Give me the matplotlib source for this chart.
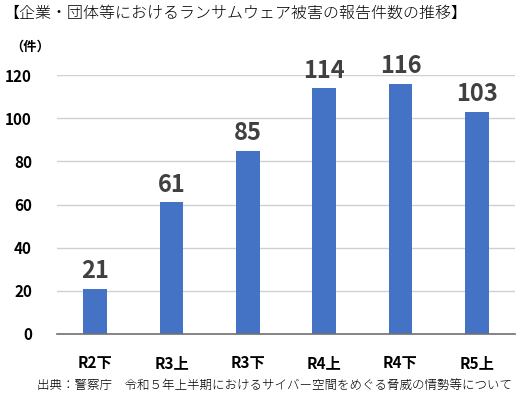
import matplotlib.pyplot as plt

plt.rcParams['font.family'] = ['Noto Sans CJK JP', 'DejaVu Sans']

periods = ["R2下", "R3上", "R3下", "R4上", "R4下", "R5上"]
counts = [21, 61, 85, 114, 116, 103]
yticks = [0, 20, 40, 60, 80, 100, 120]

fig = plt.figure(figsize=(5.22, 3.97), dpi=100)
ax = fig.add_axes([57 / 522, 1 - 334 / 397, 458 / 522, 259 / 397])

x = range(len(periods))
ax.bar(x, counts, width=0.31, color="#4472C4", zorder=3)
for i, v in zip(x, counts):
    ax.text(i, v + 2.5, str(v), ha="center", va="bottom", fontsize=17,
            fontweight="bold", color="#404040", clip_on=False)

ax.set_xlim(-0.5, len(periods) - 0.5)
ax.set_ylim(0, 120)
ax.set_yticks(yticks)
ax.set_yticklabels([str(t) for t in yticks], fontsize=11, fontweight="bold")
ax.set_xticks(list(x))
ax.set_xticklabels(periods, fontsize=11, fontweight="bold")
ax.tick_params(length=0, pad=18, axis="y")
ax.tick_params(length=0, pad=15, axis="x")
ax.grid(axis="y", color="#D0D0D0", linewidth=1, zorder=0)
for s in ["top", "right", "left"]:
    ax.spines[s].set_visible(False)
ax.spines["bottom"].set_color("#707070")
ax.spines["bottom"].set_linewidth(1.2)
ax.spines["bottom"].set_zorder(4)

fig.text(3 / 522, 1 - 13 / 397, "【企業・団体等におけるランサムウェア被害の報告件数の推移】",
         ha="left", va="center", fontsize=11.5, fontweight="light")
fig.text(10 / 522, 1 - 47 / 397, "（件）", ha="left", va="center",
         fontsize=9.5, fontweight="bold")
fig.text(512 / 522, 1 - 386 / 397,
         "出典：警察庁　令和５年上半期におけるサイバー空間をめぐる脅威の情勢等について",
         ha="right", va="center", fontsize=9, fontweight="light")

fig.savefig("out.png", dpi=100)
